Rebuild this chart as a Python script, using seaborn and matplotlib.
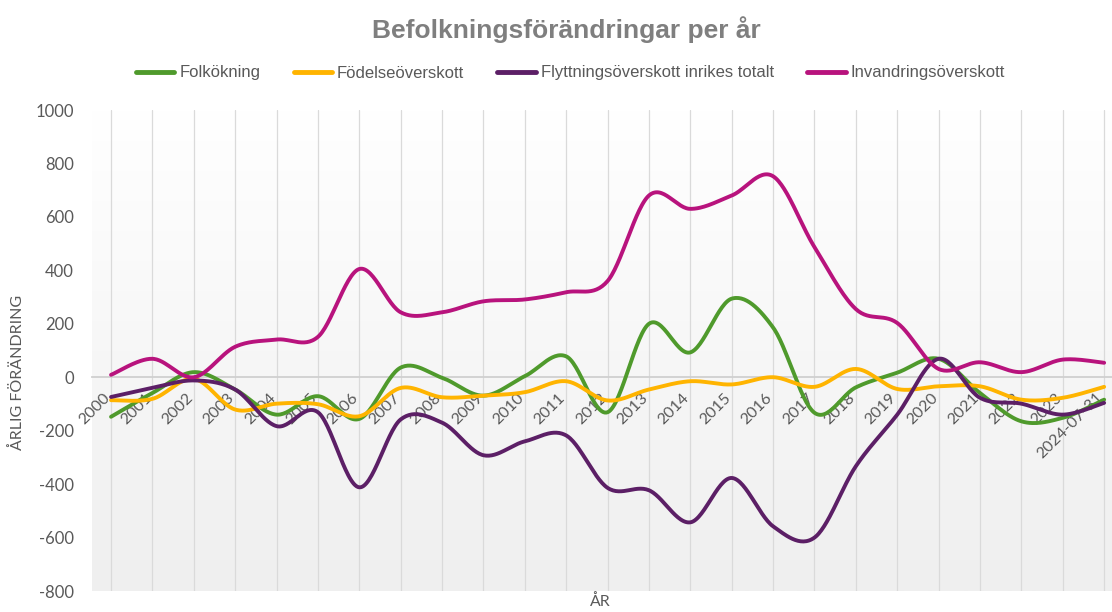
import numpy as np
import pandas as pd
import matplotlib
matplotlib.use("Agg")
import matplotlib.pyplot as plt
import matplotlib.transforms as mtrans
from matplotlib.colors import LinearSegmentedColormap
from matplotlib.lines import Line2D
import seaborn as sns

# data (per year)
years = ["2000", "2001", "2002", "2003", "2004", "2005", "2006", "2007", "2008",
         "2009", "2010", "2011", "2012", "2013", "2014", "2015", "2016", "2017",
         "2018", "2019", "2020", "2021", "2022", "2023", "2024-07-31"]
folkokning = [-148, -59, 19, -46, -140, -71, -156, 36, -2, -69, 4, 78, -131,
              200, 93, 294, 186, -133, -38, 17, 69, -59, -165, -152, -84]
fodelseoverskott = [-86, -81, -6, -121, -99, -101, -146, -40, -75, -69, -56, -15, -87,
                    -46, -15, -27, 0, -36, 31, -44, -34, -34, -84, -77, -36]
flyttning = [-74, -40, -12, -46, -183, -131, -412, -158, -170, -292, -240, -218, -414,
             -423, -543, -377, -558, -600, -333, -140, 69, -77, -99, -140, -96]
invandring = [9, 69, 0, 114, 141, 151, 405, 243, 243, 284, 291, 318, 360,
              680, 630, 680, 752, 487, 255, 203, 31, 56, 19, 66, 54]

series_names = ["Folkökning", "Födelseöverskott",
                "Flyttningsöverskott inrikes totalt", "Invandringsöverskott"]
series_vals = [folkokning, fodelseoverskott, flyttning, invandring]
colors = ["#4f9a2c", "#ffb400", "#5c1f66", "#b8137d"]


def smooth(vals, n=30):
    # excel style smoothed line (bezier through every point)
    p = np.column_stack([np.arange(len(vals)), vals]).astype(float)
    pad = np.vstack([p[0], p, p[-1]])
    t = np.linspace(0, 1, n, endpoint=False)[:, None]
    out = []
    for i in range(len(p) - 1):
        p0, p1, p2, p3 = pad[i], pad[i + 1], pad[i + 2], pad[i + 3]
        c1 = p1 + (p2 - p0) / 6
        c2 = p2 - (p3 - p1) / 6
        out.append((1 - t) ** 3 * p1 + 3 * (1 - t) ** 2 * t * c1
                   + 3 * (1 - t) * t ** 2 * c2 + t ** 3 * p2)
    out.append(p[-1:])
    return np.vstack(out)


frames = []
for name, vals in zip(series_names, series_vals):
    s = smooth(vals)
    frames.append(pd.DataFrame({"serie": name, "x": s[:, 0], "v": s[:, 1]}))
df = pd.concat(frames, ignore_index=True)

sns.set_style("white")
plt.rcParams["font.family"] = ["Liberation Sans", "DejaVu Sans"]
tick_font = ["Lato", "DejaVu Sans"]
grey = "#595959"

fig = plt.figure(figsize=(11.12, 6.12), dpi=100)
ax = fig.add_axes([92 / 1112, 21 / 612, 1 - 92 / 1112, (591 - 110) / 612])

xmin, xmax = -0.46, 24.19
ymin, ymax = -800, 1000

# background gradient of the plot area
cmap = LinearSegmentedColormap.from_list("bg", ["#efefef", "#ffffff"])
grad = np.linspace(0, 1, 256)[:, None]
ax.imshow(grad, extent=(xmin, xmax, ymin, ymax), origin="lower", aspect="auto",
          cmap=cmap, zorder=0)

sns.lineplot(data=df, x="x", y="v", hue="serie", hue_order=series_names,
             palette=colors, sort=False, estimator=None, lw=2.8, ax=ax,
             legend=False, zorder=3)

ax.set_xlim(xmin, xmax)
ax.set_ylim(ymin, ymax)
ax.set_xticks(range(len(years)))
ax.set_xticklabels(years)
ax.set_yticks(range(-800, 1001, 200))
ax.set_yticklabels([str(v) for v in range(-800, 1001, 200)])
ax.tick_params(axis="x", length=0, pad=3)
ax.tick_params(axis="y", length=0, pad=13)
ax.grid(axis="x", color="#dadada", lw=0.9, zorder=1)
ax.grid(axis="y", visible=False)
for sp in ["top", "right", "left"]:
    ax.spines[sp].set_visible(False)
ax.spines["bottom"].set_position(("data", 0))
ax.spines["bottom"].set_color("#d0d0d0")
ax.spines["bottom"].set_linewidth(1.3)
ax.spines["bottom"].set_zorder(2)
ax.set_xlabel("")
ax.set_ylabel("")

plt.setp(ax.get_xticklabels(), rotation=45, ha="right", va="top",
         rotation_mode="anchor", fontsize=11.5, color=grey, family=tick_font)
plt.setp(ax.get_yticklabels(), fontsize=12, color=grey, family=tick_font)
# shift the rotated year labels a little down-left like the reference
offset = mtrans.ScaledTranslation(-0.08, -0.09, fig.dpi_scale_trans)
for lab in ax.get_xticklabels():
    lab.set_transform(lab.get_transform() + offset)

fig.text(566 / 1112, 1 - 30 / 612, "Befolkningsförändringar per år", ha="center",
         va="center", fontsize=19, fontweight="bold", color="#7f7f7f")
fig.text(18 / 1112, 1 - 372 / 612, "ÅRLIG FÖRÄNDRING", rotation=90, ha="center",
         va="center", fontsize=11.5, color=grey, family=tick_font)
fig.text(600 / 1112, 1 - 602 / 612, "ÅR", ha="center", va="center",
         fontsize=11.5, color=grey, family=tick_font)

handles = [Line2D([], [], color=c, lw=3.5) for c in colors]
fig.legend(handles, series_names, loc="center", bbox_to_anchor=(0.513, 1 - 73 / 612),
           ncol=4, frameon=False, fontsize=12, handlelength=2.3,
           handletextpad=0.3, columnspacing=2.0, labelcolor=grey)

fig.savefig("out.png", dpi=100)
